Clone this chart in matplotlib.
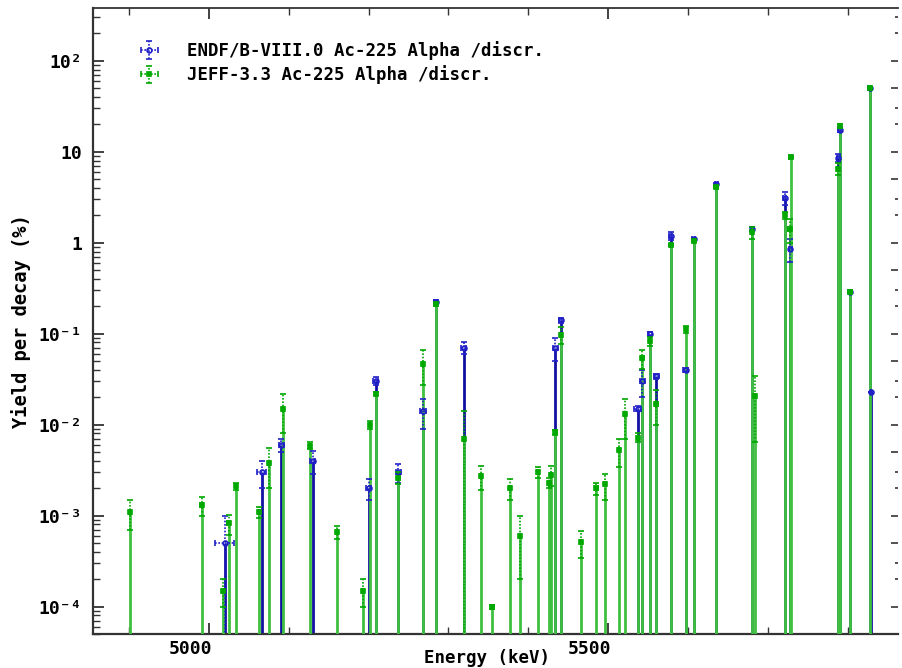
import numpy as np
import matplotlib
matplotlib.use('Agg')
import matplotlib.pyplot as plt
import matplotlib.transforms as mtransforms
from matplotlib.ticker import FixedLocator, MultipleLocator, NullFormatter, FuncFormatter

# ENDF/B-VIII.0 Ac-225 alpha lines: energy (keV), yield (%), yield unc., energy unc.
endf_e = [5020, 5066, 5091, 5130, 5200, 5209, 5237.5, 5268, 5284, 5319, 5434, 5440.7,
          5537, 5543, 5552.5, 5560.5, 5578.4, 5597, 5607, 5635.7, 5680.5, 5721.2, 5728,
          5788, 5790, 5803.5, 5827.6, 5829.7]
endf_y = [5.0e-4, 3.0e-3, 6.0e-3, 4.0e-3, 2.0e-3, 3.0e-2, 3.0e-3, 1.4e-2, 0.225, 0.070,
          0.070, 0.14, 1.5e-2, 3.0e-2, 0.10, 3.4e-2, 1.18, 0.040, 1.09, 4.4, 1.4, 3.1, 0.85,
          8.6, 17.5, 0.29, 50.7, 0.023]
endf_dy = [5.0e-4, 1.0e-3, 1.0e-3, 1.1e-3, 0.5e-3, 0.3e-2, 0.7e-3, 0.5e-2, 0.01, 0.01,
           0.02, 0.01, 0.001, 1.0e-2, 0.005, 0.002, 0.12, 0.002, 0.03, 0.1, 0.07, 0.5, 0.24,
           0.9, 1.2, 0.01, 1.0, 0.0]
endf_de = [12, 6, 3, 3, 3, 3, 3, 4, 2, 3, 3, 2, 4, 3, 3, 3, 2, 3, 2, 2, 2, 2, 2, 2, 2, 2, 2, 0]

# JEFF-3.3 Ac-225 alpha lines
jeff_e = [4901.5, 4990.9, 5017.5, 5024.7, 5033.8, 5062.6, 5075.1, 5092.6, 5126.5, 5160.3,
          5193.2, 5201.6, 5209.1, 5237.5, 5267.9, 5284.2, 5319.3, 5340.9, 5355.2, 5376.9,
          5389.4, 5412.3, 5426.1, 5428.6, 5434.1, 5440.7, 5465.8, 5485.4, 5495.8, 5513.7,
          5521.2, 5537.1, 5543, 5552.5, 5560.5, 5578.4, 5597.2, 5607.2, 5635.7, 5680.5,
          5683.6, 5721.2, 5727.3, 5728.5, 5787.9, 5790, 5803.5, 5827.6]
jeff_y = [1.1e-3, 1.3e-3, 1.5e-4, 8.2e-4, 2.1e-3, 1.1e-3, 3.8e-3, 1.5e-2, 5.9e-3, 6.6e-4,
          1.5e-4, 1.0e-2, 2.2e-2, 2.6e-3, 4.7e-2, 0.21, 7.0e-3, 2.7e-3, 1.0e-4, 2.0e-3,
          6.0e-4, 3.0e-3, 2.3e-3, 2.8e-3, 8.2e-3, 0.097, 5.1e-4, 2.0e-3, 2.2e-3, 5.2e-3,
          1.3e-2, 7.2e-3, 5.4e-2, 0.083, 1.7e-2, 0.95, 0.113, 1.05, 4.1, 1.3,
          2.05e-2, 2.0, 1.4, 8.8, 6.5, 19.2, 0.29, 50.7]
jeff_dy = [0.4e-3, 0.3e-3, 0.5e-4, 0.2e-3, 0.2e-3, 0.15e-3, 1.8e-3, 0.7e-2, 0.5e-3, 1.0e-4,
           0.5e-4, 0.1e-2, 0.1e-2, 0.4e-3, 2.0e-2, 0.01, 7.0e-3, 0.8e-3, 0.05e-4, 0.5e-3,
           4.0e-4, 0.4e-3, 0.3e-3, 0.7e-3, 0.5e-3, 0.02, 1.7e-4, 0.3e-3, 0.7e-3, 1.8e-3,
           0.6e-2, 0.8e-3, 1.3e-2, 0.01, 0.7e-2, 0.03, 0.01, 0.03, 0.1, 0.2,
           1.4e-2, 0.2, 0.4, 0.2, 1.0, 0.8, 0.01, 1.0]
jeff_de = 1.5

labels = ['ENDF/B-VIII.0 Ac-225 Alpha /discr.', 'JEFF-3.3 Ac-225 Alpha /discr.']
ytick_vals = [1e-4, 1e-3, 1e-2, 1e-1, 1, 10, 100]
ytick_txt = ['10⁻⁴', '10⁻³', '10⁻²', '10⁻¹', '1', '10', '10²']

plt.rcParams['font.family'] = ['DejaVu Sans Mono']
plt.rcParams['font.weight'] = 'bold'

blue = '#2020c8'
blue_dark = '#1010a0'
green = '#40c040'
green_dark = '#00a800'
axcol = '#333333'

fig = plt.figure(figsize=(9.03, 6.68), dpi=100)
ax = fig.add_axes([93/903, 1-634/668, 805/903, 626/668])
ax.set_yscale('log')
ymin, ymax = 5e-5, 380
ax.set_xlim(4855, 5863)
ax.set_ylim(ymin, ymax)

# stems
ax.vlines(endf_e, 1e-6, endf_y, color=blue_dark, lw=2.0, zorder=2)
ax.vlines(jeff_e, 1e-6, jeff_y, color=green, lw=2.0, zorder=3)

def draw_err(e, y, dy, de, col, mk, mfc, z):
    c = ax.errorbar(e, y, yerr=dy, xerr=de, fmt=mk, ms=3.5, mfc=mfc, mec=col, mew=1.2,
                    ecolor=col, elinewidth=1.2, capsize=2, capthick=1.2, zorder=z)
    for lc in c[2]:
        lc.set_linestyle((0, (1, 1)))
    return c

h1 = draw_err(endf_e, endf_y, endf_dy, endf_de, blue, 'o', 'none', 4)
h2 = draw_err(jeff_e, jeff_y, jeff_dy, jeff_de, green_dark, 's', green_dark, 5)

leg = ax.legend([h1, h2], labels, loc='upper left', bbox_to_anchor=(0.045, 0.958),
                frameon=False, fontsize=12.5, handlelength=1.5, handletextpad=1.4,
                labelspacing=0.3, borderaxespad=0)
for t in leg.get_texts():
    t.set_fontweight('bold')

# x ticks
ax.xaxis.set_major_locator(FixedLocator([5000, 5500]))
ax.xaxis.set_minor_locator(MultipleLocator(100))
ax.xaxis.set_minor_formatter(NullFormatter())
ax.tick_params(axis='x', which='major', direction='in', length=8, width=1.3, top=True,
               labelsize=13, pad=4, colors=axcol, labelcolor='black')
ax.tick_params(axis='x', which='minor', direction='in', length=5, width=1.0, top=True,
               colors=axcol)
offset = mtransforms.ScaledTranslation(3/100, 0, fig.dpi_scale_trans)
for lab in ax.get_xticklabels():
    lab.set_horizontalalignment('right')
    lab.set_transform(lab.get_transform() + offset)
    lab.set_fontweight('bold')

# y ticks
ax.yaxis.set_major_locator(FixedLocator(ytick_vals))
ax.yaxis.set_major_formatter(FuncFormatter(lambda v, p: ytick_txt[ytick_vals.index(v)]
                                           if v in ytick_vals else ''))
minors = [m * 10.0**k for k in range(-5, 3) for m in range(2, 10)]
ax.yaxis.set_minor_locator(FixedLocator(minors))
ax.yaxis.set_minor_formatter(NullFormatter())
ax.tick_params(axis='y', which='major', direction='in', length=8, width=1.3, right=False,
               labelsize=13, pad=8, colors=axcol, labelcolor='black')
ax.tick_params(axis='y', which='minor', direction='in', length=5, width=1.0, right=False,
               colors=axcol)
for lab in ax.get_yticklabels():
    lab.set_fontweight('bold')

# right-hand tick marks (no spine)
ax2 = ax.twinx()
ax2.set_yscale('log')
ax2.set_ylim(ymin, ymax)
ax2.yaxis.set_major_locator(FixedLocator([m * 10.0**k for k in range(-5, 3) for m in (1, 5)]))
ax2.yaxis.set_minor_locator(FixedLocator([m * 10.0**k for k in range(-5, 3) for m in (2, 3)]))
ax2.yaxis.set_major_formatter(NullFormatter())
ax2.yaxis.set_minor_formatter(NullFormatter())
ax2.tick_params(axis='y', which='major', direction='in', length=5, width=1.2, colors=axcol)
ax2.tick_params(axis='y', which='minor', direction='in', length=2, width=1.2, colors=axcol)
for s in ax2.spines.values():
    s.set_visible(False)

for name, s in ax.spines.items():
    s.set_color(axcol)
    s.set_linewidth(1.6)
ax.spines['right'].set_visible(False)
ax.spines['top'].set_linewidth(1.3)

ax.set_xlabel('Energy (keV)', fontsize=12.5, fontweight='bold')
ax.xaxis.set_label_coords(0.49, -0.024)
ax.set_ylabel('Yield per decay (%)', fontsize=13.5, fontweight='bold')
ax.yaxis.set_label_coords(-0.077, 0.5)

fig.savefig('out.png', dpi=100)
